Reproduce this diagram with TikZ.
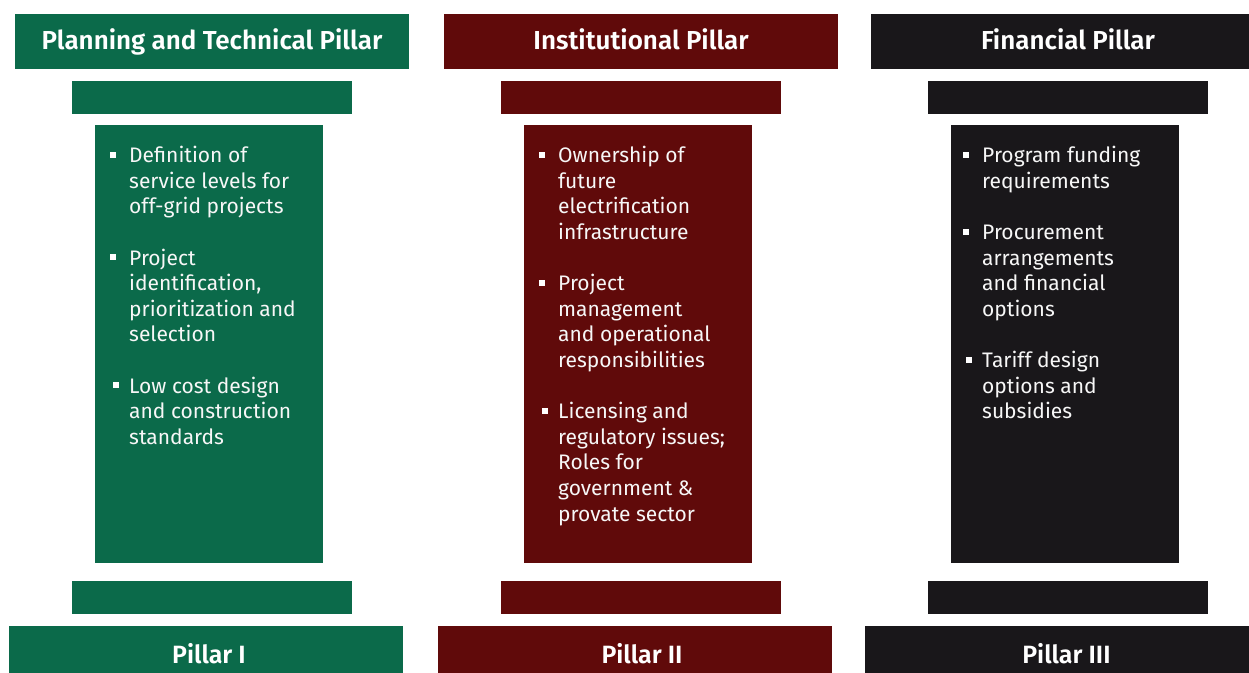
\documentclass[tikz,border=0pt]{standalone}
\usepackage{fontspec}
\setmainfont{Fira Sans}
\newfontfamily\headfont{Fira Sans SemiBold}
\usepackage{tikz}
\usetikzlibrary{calc}
\definecolor{pgreen}{HTML}{0B6A4A}
\definecolor{pred}{HTML}{600A0A}
\definecolor{pdark}{HTML}{19171A}
% one bullet point: [bullet shift]{name}{text x}{line no.}{lines}
\newcommand{\pitem}[5][0]{%
  \node[item, anchor=north west] (#2) at (#3, {144.6+25.6*#4}) {\strut#5};
  \node[dot] (#2b) at ($(#2.north west)+({#1-16}, 10.4)$) {};}

\begin{document}
\begin{tikzpicture}[x=1pt, y=-1pt,
  blk/.style={inner sep=0, outer sep=0},
  head/.style={blk, minimum width=394pt, minimum height=55pt, text=white,
    text height=17pt, text depth=2pt, font=\headfont\fontsize{26}{28}\selectfont},
  foot/.style={blk, minimum width=394pt, minimum height=54pt},
  ftext/.style={blk, text=white, text height=17pt, text depth=2pt,
    font=\headfont\fontsize{25}{28}\selectfont},
  bar/.style={blk, minimum width=280pt, minimum height=33pt},
  shaft/.style={blk, minimum width=228pt, minimum height=438pt},
  item/.style={inner sep=0, align=left, text=white!94!gray, font=\fontsize{21}{25.6}\selectfont},
  dot/.style={fill=white, minimum size=6pt, inner sep=0}]
\useasboundingbox (0,0) rectangle (1249,672);

% pillar I
\node[head, fill=pgreen] (h1) at (212,41.5) {Planning and Technical Pillar};
\node[bar, fill=pgreen] (c1) at (212,97.5) {};
\node[shaft, fill=pgreen] (s1) at (209,344) {};
\node[bar, fill=pgreen] (b1) at (212,597.5) {};
\node[foot, fill=pgreen] (f1) at (206,653) {};
\node[ftext] (f1t) at (209,655.5) {Pillar I};

% pillar II
\node[head, fill=pred] (h2) at (641,41.5) {Institutional Pillar};
\node[bar, fill=pred] (c2) at (641,97.5) {};
\node[shaft, fill=pred] (s2) at (638,344) {};
\node[bar, fill=pred] (b2) at (641,597.5) {};
\node[foot, fill=pred] (f2) at (635,653) {};
\node[ftext] (f2t) at (642,655.5) {Pillar II};

% pillar III
\node[head, fill=pdark] (h3) at (1068,41.5) {Financial Pillar};
\node[bar, fill=pdark] (c3) at (1068,97.5) {};
\node[shaft, fill=pdark] (s3) at (1065,344) {};
\node[bar, fill=pdark] (b3) at (1068,597.5) {};
\node[foot, fill=pdark] (f3) at (1062,653) {};
\node[ftext] (f3t) at (1066.5,655.5) {Pillar III};

% bullet lists
\pitem{pa}{129}{0}{Definition of\\service levels for\\off-grid projects}
\pitem{pb}{129}{4}{Project\\identification,\\prioritization and\\selection}
\pitem[3]{pc}{129}{9}{Low cost design\\and construction\\standards}

\pitem{ia}{558}{0}{Ownership of\\future\\electrification\\infrastructure}
\pitem{ib}{558}{5}{Project\\management\\and operational\\responsibilities}
\pitem[3]{ic}{558}{10}{Licensing and\\regulatory issues;\\Roles for\\government \&\\provate sector}

\pitem{fa}{982}{0}{Program funding\\requirements}
\pitem{fb}{982}{3}{Procurement\\arrangements\\and financial\\options}
\pitem[3]{fc}{982}{8}{Tariff design\\options and\\subsidies}
\end{tikzpicture}
\end{document}
